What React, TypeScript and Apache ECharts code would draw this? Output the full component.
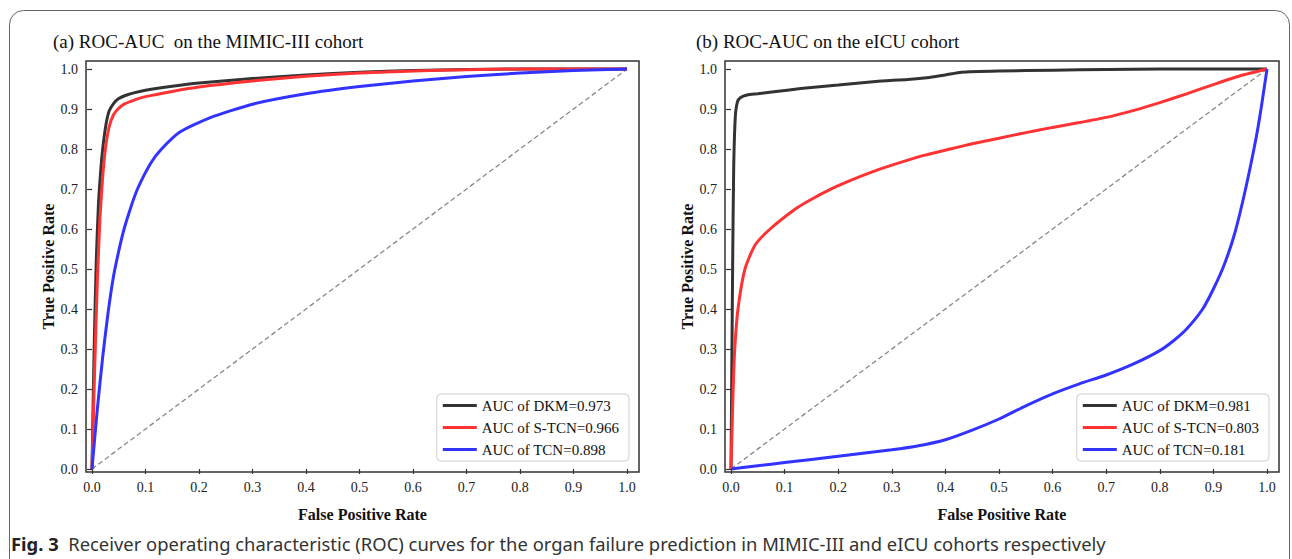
import React, { useEffect, useRef } from "react";
import * as echarts from "echarts";

const tickValues = [0, 0.1, 0.2, 0.3, 0.4, 0.5, 0.6, 0.7, 0.8, 0.9, 1.0];

const panelTitles = ["(a) ROC-AUC  on the MIMIC-III cohort", "(b) ROC-AUC on the eICU cohort"];
const xAxisTitle = "False Positive Rate";
const yAxisTitle = "True Positive Rate";

const mimicNames = ["AUC of DKM=0.973", "AUC of S-TCN=0.966", "AUC of TCN=0.898"];
const eicuNames = ["AUC of DKM=0.981", "AUC of S-TCN=0.803", "AUC of TCN=0.181"];

const mimicDKM = [
  [0, 0], [0.004, 0.3], [0.008, 0.52], [0.012, 0.66], [0.016, 0.74], [0.02, 0.8], [0.026, 0.86],
  [0.032, 0.895], [0.04, 0.913], [0.05, 0.926], [0.065, 0.935], [0.08, 0.941], [0.1, 0.947],
  [0.15, 0.957], [0.2, 0.965], [0.3, 0.976], [0.4, 0.985], [0.5, 0.992], [0.6, 0.996],
  [0.7, 0.999], [0.8, 1.0], [1.0, 1.0],
];
const mimicSTCN = [
  [0, 0], [0.005, 0.25], [0.01, 0.47], [0.015, 0.63], [0.02, 0.73], [0.025, 0.8], [0.032, 0.855],
  [0.04, 0.885], [0.05, 0.902], [0.06, 0.912], [0.08, 0.923], [0.1, 0.931], [0.15, 0.944],
  [0.2, 0.955], [0.3, 0.97], [0.4, 0.982], [0.5, 0.99], [0.6, 0.995], [0.7, 0.998],
  [0.8, 1.0], [1.0, 1.0],
];
const mimicTCN = [
  [0, 0], [0.01, 0.15], [0.02, 0.28], [0.03, 0.39], [0.04, 0.48], [0.05, 0.545], [0.06, 0.6],
  [0.072, 0.652], [0.085, 0.7], [0.11, 0.765], [0.13, 0.8], [0.165, 0.843], [0.22, 0.878],
  [0.3, 0.912], [0.4, 0.938], [0.5, 0.956], [0.6, 0.97], [0.7, 0.981], [0.8, 0.99],
  [0.9, 0.996], [1.0, 1.0],
];

const eicuDKM = [
  [0, 0], [0.003, 0.5], [0.005, 0.75], [0.008, 0.88], [0.012, 0.918], [0.018, 0.929],
  [0.03, 0.935], [0.05, 0.938], [0.08, 0.943], [0.13, 0.951], [0.2, 0.96], [0.27, 0.969],
  [0.33, 0.974], [0.37, 0.979], [0.4, 0.985], [0.43, 0.992], [0.5, 0.995], [0.6, 0.997],
  [0.7, 0.999], [0.8, 1.0], [1.0, 1.0],
];
const eicuSTCN = [
  [0, 0], [0.002, 0.1], [0.004, 0.2], [0.007, 0.3], [0.013, 0.4], [0.026, 0.5], [0.045, 0.56],
  [0.073, 0.6], [0.12, 0.65], [0.147, 0.672], [0.19, 0.702], [0.222, 0.721], [0.27, 0.746],
  [0.315, 0.766], [0.36, 0.784], [0.409, 0.8], [0.45, 0.813], [0.5, 0.827], [0.55, 0.841],
  [0.6, 0.854], [0.65, 0.866], [0.7, 0.879], [0.75, 0.896], [0.8, 0.916], [0.85, 0.938],
  [0.9, 0.961], [0.95, 0.983], [1.0, 1.0],
];
const eicuTCN = [
  [0, 0], [0.05, 0.008], [0.1, 0.016], [0.2, 0.032], [0.3, 0.048], [0.35, 0.058], [0.4, 0.073],
  [0.45, 0.097], [0.5, 0.125], [0.55, 0.158], [0.6, 0.188], [0.65, 0.213], [0.7, 0.235],
  [0.75, 0.262], [0.8, 0.296], [0.825, 0.32], [0.85, 0.35], [0.88, 0.4], [0.9, 0.45],
  [0.92, 0.51], [0.94, 0.59], [0.96, 0.7], [0.98, 0.83], [0.99, 0.91], [1.0, 1.0],
];

const diagonal = [[0, 0], [1, 1]];

const lineColors = ["#333333", "#ff3333", "#3333ff"];

const captionBold = "Fig. 3";
const captionText =
  "Receiver operating characteristic (ROC) curves for the organ failure prediction in MIMIC-III and eICU cohorts respectively";

const SERIF = "'Liberation Serif', 'Times New Roman', serif";
const SANS = "'Noto Sans', 'Open Sans', sans-serif";

export default function App() {
  const ref = useRef<HTMLDivElement>(null);

  useEffect(() => {
    if (!ref.current) return;
    const chart = echarts.init(ref.current, undefined, { renderer: "svg" });

    const grids = [
      { left: 86, top: 61, width: 553, height: 411 },
      { left: 725, top: 61, width: 554, height: 411 },
    ];

    const axisCommon = {
      type: "value",
      nameLocation: "middle",
      nameTextStyle: { fontFamily: SERIF, fontSize: 16, fontWeight: "bold", color: "#111" },
      axisLine: { show: false },
      splitLine: { show: false },
      axisTick: {
        show: true,
        length: 5,
        customValues: tickValues,
        lineStyle: { color: "#333", width: 1.2 },
      },
      axisLabel: {
        customValues: tickValues,
        formatter: (v: number) => v.toFixed(1),
        fontFamily: SERIF,
        fontSize: 14,
        color: "#222",
        margin: 8,
      },
    };

    const xAxisFor = (i: number) => ({
      ...axisCommon,
      gridIndex: i,
      min: -0.0112,
      max: 1.0224,
      name: xAxisTitle,
      nameGap: 34,
    });

    const yAxisFor = (i: number) => ({
      ...axisCommon,
      gridIndex: i,
      min: -0.0075,
      max: 1.02,
      name: yAxisTitle,
      nameRotate: 90,
      nameGap: 30,
    });

    const curve = (name: string, data: number[][], color: string, i: number) => ({
      type: "line",
      name,
      data,
      xAxisIndex: i,
      yAxisIndex: i,
      showSymbol: false,
      smooth: 0.2,
      lineStyle: { color, width: 3 },
      itemStyle: { color },
      z: 3,
    });

    const diag = (i: number) => ({
      type: "line",
      name: "diag" + i,
      data: diagonal,
      xAxisIndex: i,
      yAxisIndex: i,
      showSymbol: false,
      lineStyle: { color: "#888", width: 1.3, type: [5, 3] },
      z: 2,
      silent: true,
    });

    const legendFor = (names: string[], right: number) => ({
      data: names,
      orient: "vertical",
      right,
      top: 394,
      icon: "rect",
      itemWidth: 34,
      itemHeight: 3,
      itemGap: 7,
      selectedMode: false,
      backgroundColor: "rgba(255,255,255,0.85)",
      borderColor: "#d0d0d0",
      borderWidth: 1,
      borderRadius: 4,
      padding: [4, 10, 4, 6],
      textStyle: { fontFamily: SERIF, fontSize: 15, color: "#111" },
    });

    const option = {
      animation: false,
      backgroundColor: "#ffffff",
      title: [
        {
          text: panelTitles[0],
          left: 48,
          top: 27,
          textStyle: { fontFamily: SERIF, fontSize: 19, fontWeight: "normal", color: "#111" },
        },
        {
          text: panelTitles[1],
          left: 691,
          top: 27,
          textStyle: { fontFamily: SERIF, fontSize: 19, fontWeight: "normal", color: "#111" },
        },
      ],
      grid: grids.map((g) => ({
        ...g,
        show: true,
        borderColor: "#333",
        borderWidth: 1.5,
        backgroundColor: "#fff",
        containLabel: false,
      })),
      xAxis: [xAxisFor(0), xAxisFor(1)],
      yAxis: [yAxisFor(0), yAxisFor(1)],
      legend: [legendFor(mimicNames, 663), legendFor(eicuNames, 23)],
      series: [
        diag(0),
        curve(mimicNames[0], mimicDKM, lineColors[0], 0),
        curve(mimicNames[1], mimicSTCN, lineColors[1], 0),
        curve(mimicNames[2], mimicTCN, lineColors[2], 0),
        diag(1),
        curve(eicuNames[0], eicuDKM, lineColors[0], 1),
        curve(eicuNames[1], eicuSTCN, lineColors[1], 1),
        curve(eicuNames[2], eicuTCN, lineColors[2], 1),
      ],
      graphic: [
        {
          type: "rect",
          shape: { x: 9.5, y: 10.5, width: 1280, height: 620, r: 14 },
          style: { fill: "none", stroke: "#666", lineWidth: 1 },
          silent: true,
          z: 0,
        },
        {
          type: "text",
          x: 11,
          y: 543,
          style: {
            text: "{b|" + captionBold + "}  " + captionText,
            fontFamily: SANS,
            fontSize: 18.4,
            fill: "#333",
            verticalAlign: "middle",
            rich: {
              b: {
                fontFamily: SANS,
                fontSize: 18.4,
                fontWeight: "bold",
                fill: "#222",
              },
            },
          },
        },
      ],
    };

    chart.setOption(option as any);
    return () => chart.dispose();
  }, []);

  return (
    <div
      ref={ref}
      style={{ position: "fixed", left: 0, top: 0, width: 1292, height: 559, background: "#fff" }}
    />
  );
}
